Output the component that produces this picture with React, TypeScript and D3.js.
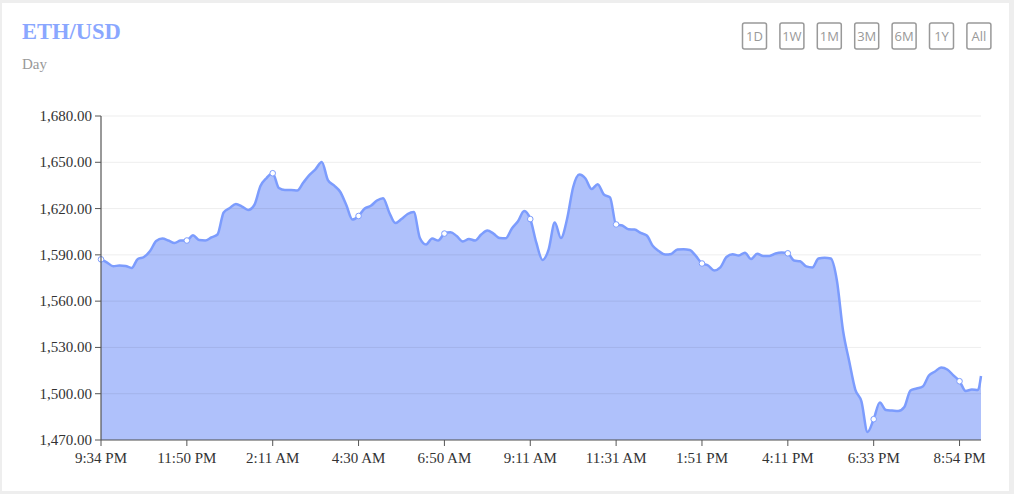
import React from "react";
import * as d3 from "d3";

const prices: number[] = [
  1587.1, 1585.0, 1582.6, 1583.1, 1582.8, 1581.5, 1587.3, 1588.6, 1592.5, 1599.0,
  1600.6, 1599.3, 1597.7, 1599.3, 1599.3, 1602.7, 1599.6, 1599.3, 1601.3, 1603.2,
  1617.5, 1620.4, 1623.0, 1621.3, 1619.1, 1622.3, 1634.6, 1639.8, 1642.9, 1633.3,
  1632.0, 1632.0, 1631.7, 1636.9, 1641.8, 1645.6, 1650.2, 1638.5, 1635.0, 1630.9,
  1622.3, 1612.9, 1615.2, 1620.0, 1621.8, 1625.2, 1626.7, 1617.5, 1610.6, 1613.2,
  1616.5, 1617.8, 1600.9, 1596.7, 1600.6, 1599.3, 1603.8, 1604.6, 1602.2, 1598.7,
  1600.3, 1599.3, 1603.2, 1605.8, 1603.8, 1600.9, 1600.7, 1607.1, 1611.8, 1618.4,
  1613.2, 1597.7, 1586.7, 1593.6, 1611.0, 1600.9, 1613.2, 1634.0, 1642.1, 1639.5,
  1632.7, 1635.8, 1629.1, 1627.3, 1609.7, 1609.0, 1606.6, 1606.4, 1604.2, 1602.5,
  1595.7, 1592.3, 1590.2, 1590.6, 1593.5, 1593.6, 1593.1, 1589.3, 1584.4, 1583.1,
  1579.9, 1581.9, 1588.6, 1590.4, 1589.6, 1591.4, 1587.3, 1590.7, 1589.3, 1589.3,
  1590.9, 1591.5, 1591.0, 1586.3, 1585.8, 1582.5, 1581.8, 1587.6, 1588.2, 1587.6,
  1573.4, 1541.0, 1521.2, 1502.7, 1495.0, 1475.2, 1483.5, 1494.3, 1489.4, 1489.1,
  1488.8, 1491.4, 1502.1, 1503.4, 1504.7, 1511.8, 1514.4, 1517.0, 1515.7, 1511.9,
  1508.1, 1501.8, 1502.7, 1502.4, 1511.5,
];

// 5-minute slots over the day; samples every 2 slots, last sample at final slot
const TOTAL_SLOTS = 287;
const slots: number[] = prices.map((_, i) => Math.min(2 * i, TOTAL_SLOTS));

const tickSlots: number[] = [0, 28, 56, 84, 112, 140, 168, 196, 224, 252, 280];
const tickLabels: string[] = [
  "9:34 PM", "11:50 PM", "2:11 AM", "4:30 AM", "6:50 AM", "9:11 AM",
  "11:31 AM", "1:51 PM", "4:11 PM", "6:33 PM", "8:54 PM",
];
const yTicks: number[] = [1470, 1500, 1530, 1560, 1590, 1620, 1650, 1680];
const ranges: string[] = ["1D", "1W", "1M", "3M", "6M", "1Y", "All"];

const W = 1014;
const H = 494;
const left = 101;
const right = 981;
const top = 116;
const bottom = 440;

export default function App() {
  const x = d3.scaleLinear().domain([0, TOTAL_SLOTS]).range([left, right]);
  const y = d3.scaleLinear().domain([1470, 1680]).range([bottom, top]);
  const pts: [number, number][] = prices.map((p, i) => [slots[i], p]);
  const area = d3
    .area<[number, number]>()
    .x((d) => x(d[0]))
    .y0(bottom)
    .y1((d) => y(d[1]))
    .curve(d3.curveMonotoneX);
  const line = d3
    .line<[number, number]>()
    .x((d) => x(d[0]))
    .y((d) => y(d[1]))
    .curve(d3.curveMonotoneX);
  const fmt = d3.format(",.2f");
  const serif = "'Liberation Serif', 'Times New Roman', serif";
  const markerIdx = tickSlots.map((s) => slots.indexOf(s)).filter((i) => i >= 0);

  return (
    <div style={{ position: "absolute", left: 0, top: 0, width: W, height: H }}>
      <svg width={W} height={H} style={{ display: "block" }}>
        <rect x={0} y={0} width={W} height={H} fill="#eeeeee" />
        <rect x={2} y={3} width={1007} height={488} fill="#ffffff" />
        <text x={22} y={39} fontFamily={serif} fontWeight="bold" fontSize={22.5} fill="#8aa7ff">
          ETH/USD
        </text>
        <text x={22} y={69} fontFamily={serif} fontSize={15} fill="#999999">
          Day
        </text>
        {ranges.map((r, i) => {
          const bx = 742.5 + i * 37.4;
          return (
            <g key={r}>
              <rect x={bx} y={23} width={24} height={26} rx={2} fill="none" stroke="#999999" strokeWidth={1.5} />
              <text
                x={bx + 12}
                y={41}
                textAnchor="middle"
                fontFamily="'Open Sans', sans-serif"
                fontSize={13}
                fill="#999999"
              >
                {r}
              </text>
            </g>
          );
        })}
        <path d={area(pts) || ""} fill="#afc1fb" />
        {yTicks.map((t) => (
          <line key={t} x1={left} x2={right} y1={y(t)} y2={y(t)} stroke="rgba(0,0,0,0.07)" strokeWidth={1} />
        ))}
        <path d={line(pts) || ""} fill="none" stroke="#7c9cfd" strokeWidth={2.5} strokeLinejoin="round" />
        {markerIdx.map((i) => (
          <circle key={i} cx={x(slots[i])} cy={y(prices[i])} r={2.8} fill="#ffffff" stroke="#7c9cfd" strokeWidth={1} />
        ))}
        <line x1={left} x2={left} y1={top} y2={bottom} stroke="#555555" strokeWidth={1.2} />
        <line x1={left} x2={right} y1={bottom} y2={bottom} stroke="#555555" strokeWidth={1.2} />
        {yTicks.map((t) => (
          <g key={t}>
            <line x1={left - 6} x2={left} y1={y(t)} y2={y(t)} stroke="#555555" />
            <text x={left - 9} y={y(t) + 5} textAnchor="end" fontFamily={serif} fontSize={15} fill="#333333">
              {fmt(t)}
            </text>
          </g>
        ))}
        {tickSlots.map((s, i) => (
          <g key={s}>
            <line x1={x(s)} x2={x(s)} y1={bottom} y2={bottom + 6} stroke="#555555" />
            <text x={x(s)} y={463} textAnchor="middle" fontFamily={serif} fontSize={15} fill="#333333">
              {tickLabels[i]}
            </text>
          </g>
        ))}
      </svg>
    </div>
  );
}
